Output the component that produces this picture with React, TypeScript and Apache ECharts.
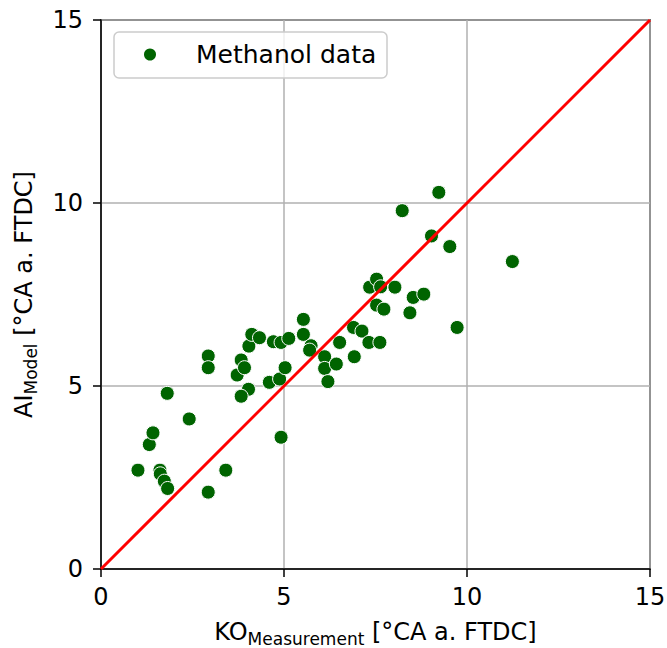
import React, { useEffect, useRef } from "react";
import * as echarts from "echarts";

const seriesName = "Methanol data";
const koMeasurement = [
  1.01, 1.32, 1.42, 1.61, 1.62, 1.73, 1.82, 1.81, 2.41, 2.93,
  3.41, 4.92, 2.93, 2.93, 3.72, 3.83, 3.92, 4.03, 3.83, 4.04,
  4.12, 4.33, 4.6, 4.71, 4.88, 4.92, 5.03, 5.13, 5.53, 5.53,
  5.74, 5.7, 6.11, 6.11, 6.2, 6.43, 6.52, 6.9, 6.92, 7.13,
  7.32, 7.62, 7.34, 7.53, 7.64, 8.03, 7.53, 7.73, 8.44, 8.53,
  8.82, 9.73, 8.23, 9.03, 9.23, 9.53, 11.24,
];
const aiModel = [
  2.7, 3.4, 3.72, 2.7, 2.6, 2.4, 2.2, 4.8, 4.1, 2.1,
  2.7, 3.6, 5.82, 5.5, 5.3, 5.71, 5.5, 4.91, 4.72, 6.09,
  6.41, 6.32, 5.1, 6.21, 5.19, 6.19, 5.5, 6.3, 6.82, 6.41,
  6.1, 5.98, 5.8, 5.48, 5.12, 5.6, 6.19, 6.6, 5.8, 6.5,
  6.19, 6.19, 7.7, 7.92, 7.71, 7.7, 7.21, 7.1, 7.0, 7.42,
  7.51, 6.6, 9.79, 9.1, 10.29, 8.81, 8.4,
];
const identityLine = [0, 15];
const axisMin = 0;
const axisMax = 15;
const axisInterval = 5;

const FONT = "DejaVu Sans";

export default function App() {
  const ref = useRef<HTMLDivElement>(null);
  useEffect(() => {
    if (!ref.current) return;
    const chart = echarts.init(ref.current, null, { renderer: "svg" });
    const points = koMeasurement.map((x, i) => [x, aiModel[i]]);
    const rich = {
      m: { fontSize: 24, fontFamily: FONT, color: "#000", lineHeight: 30, verticalAlign: "middle" },
      s: { fontSize: 17, fontFamily: FONT, color: "#000", lineHeight: 20, verticalAlign: "bottom" },
    };
    const axisCommon = {
      type: "value",
      min: axisMin,
      max: axisMax,
      interval: axisInterval,
      axisLine: { show: true, lineStyle: { color: "#000", width: 1.5 } },
      axisTick: { show: true, length: 8, inside: false, lineStyle: { color: "#000", width: 1.5 } },
      splitLine: { show: true, lineStyle: { color: "#b0b0b0", width: 1.5 } },
    };
    chart.setOption({
      animation: false,
      backgroundColor: "#fff",
      grid: {
        left: 101,
        top: 20,
        width: 549,
        height: 549,
        show: true,
        borderColor: "#000",
        borderWidth: 1.5,
        backgroundColor: "transparent",
        containLabel: false,
        outerBoundsMode: "none",
      },
      xAxis: {
        ...axisCommon,
        axisLabel: { fontSize: 24, fontFamily: FONT, color: "#000", margin: 16 },
        name: "{m|KO}{s|Measurement}{m| [°CA a. FTDC]}",
        nameLocation: "middle",
        nameGap: 48,
        nameTextStyle: { rich },
      },
      yAxis: {
        ...axisCommon,
        axisLabel: { fontSize: 24, fontFamily: FONT, color: "#000", margin: 18 },
        name: "{m|AI}{s|Model}{m| [°CA a. FTDC]}",
        nameLocation: "middle",
        nameGap: 62,
        nameTextStyle: { rich },
      },
      legend: {
        data: [seriesName],
        left: 142,
        top: 42,
        padding: 0,
        icon: "circle",
        itemWidth: 14,
        itemHeight: 14,
        selectedMode: false,
        formatter: "{t|{name}}",
        textStyle: {
          fontSize: 25,
          fontFamily: FONT,
          color: "#000",
          rich: { t: { fontSize: 25, fontFamily: FONT, color: "#000", lineHeight: 28, padding: [0, 0, 0, 34] } },
        },
      },
      graphic: [
        {
          type: "rect",
          z: 3,
          shape: { x: 114, y: 32, width: 273, height: 46, r: 5 },
          style: { fill: "rgba(255,255,255,0.8)", stroke: "#cccccc", lineWidth: 1.5 },
        },
      ],
      series: [
        {
          name: seriesName,
          type: "scatter",
          data: points,
          symbol: "circle",
          symbolSize: 14,
          itemStyle: { color: "#006400", borderColor: "#ffffff", borderWidth: 1, opacity: 1 },
          z: 2,
        },
        {
          name: "identity",
          type: "line",
          data: identityLine.map((v) => [v, v]),
          showSymbol: false,
          symbol: "none",
          lineStyle: { color: "#ff0000", width: 3 },
          z: 3,
        },
      ],
    });
    return () => chart.dispose();
  }, []);
  return (
    <div
      ref={ref}
      style={{ position: "fixed", left: 0, top: 0, width: 667, height: 648 }}
    />
  );
}
